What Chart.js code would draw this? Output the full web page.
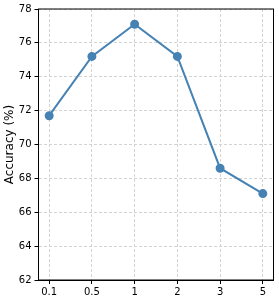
<!DOCTYPE html>
<html>
<head>
<meta charset="utf-8">
<script src="https://cdn.jsdelivr.net/npm/chart.js@4.4.0/dist/chart.umd.min.js"></script>
<style>
  body { margin: 0; background: #fff; }
  canvas { display: block; }
</style>
</head>
<body>
<canvas id="myChart" width="279" height="296"></canvas>
<script>
// values
const xLabels = ['0.1', '0.5', '1', '2', '3', '5'];
const accuracy = [71.7, 75.2, 77.1, 75.2, 68.6, 67.1];
const yTicks = [62, 64, 66, 68, 70, 72, 74, 76, 78];

const lineColor = '#4682B4';

function pointData(values) {
    return values.map((v, i) => { return { x: i, y: v } })
}

// matplotlib-style closed box around the plot area
const boxPlugin = {
    id: 'box',
    afterDraw(chart) {
        const a = chart.chartArea;
        const ctx = chart.ctx;
        ctx.save();
        ctx.strokeStyle = '#000';
        ctx.lineWidth = 1;
        ctx.strokeRect(a.left, a.top, a.right - a.left, a.bottom - a.top);
        ctx.restore();
    }
};

const data = {
    datasets: [{
        label: 'Accuracy',
        data: pointData(accuracy),
        borderColor: lineColor,
        backgroundColor: lineColor,
        borderWidth: 2,
        pointRadius: 3.5,
        pointHoverRadius: 3.5,
        tension: 0
    }]
};

const config = {
    type: 'line',
    data: data,
    options: {
        responsive: false,
        animation: false,
        layout: { padding: { top: 5, right: 3, left: 0, bottom: 0 } },
        plugins: {
            legend: { display: false },
            tooltip: { enabled: false }
        },
        scales: {
            x: {
                type: 'linear',
                min: -0.25,
                max: 5.25,
                afterBuildTicks: (axis) => { axis.ticks = xLabels.map((l, i) => { return { value: i } }) },
                ticks: {
                    callback: (v) => xLabels[v],
                    color: '#000',
                    font: { family: 'DejaVu Sans', size: 10 },
                    padding: 2,
                    maxRotation: 0
                },
                grid: {
                    color: '#d3d3d3',
                    tickColor: '#000',
                    tickLength: 4,
                    tickBorderDash: []
                },
                border: { color: '#000', width: 1, dash: [3, 2] },
                afterFit: (axis) => { axis.height = 16 }
            },
            y: {
                min: 62,
                max: 78,
                afterBuildTicks: (axis) => { axis.ticks = yTicks.map((v) => { return { value: v } }) },
                ticks: {
                    color: '#000',
                    font: { family: 'DejaVu Sans', size: 10 },
                    padding: 3
                },
                grid: {
                    color: '#d3d3d3',
                    tickColor: '#000',
                    tickLength: 4,
                    tickBorderDash: []
                },
                border: { color: '#000', width: 1, dash: [3, 2] },
                title: {
                    display: true,
                    text: 'Accuracy (%)',
                    color: '#000',
                    font: { family: 'DejaVu Sans', size: 12 },
                    padding: { top: 3, bottom: 2 }
                },
                afterFit: (axis) => { axis.width = 38.5 }
            }
        }
    },
    plugins: [boxPlugin]
};

let myChart = new Chart(document.getElementById('myChart'), config);
</script>
</body>
</html>
